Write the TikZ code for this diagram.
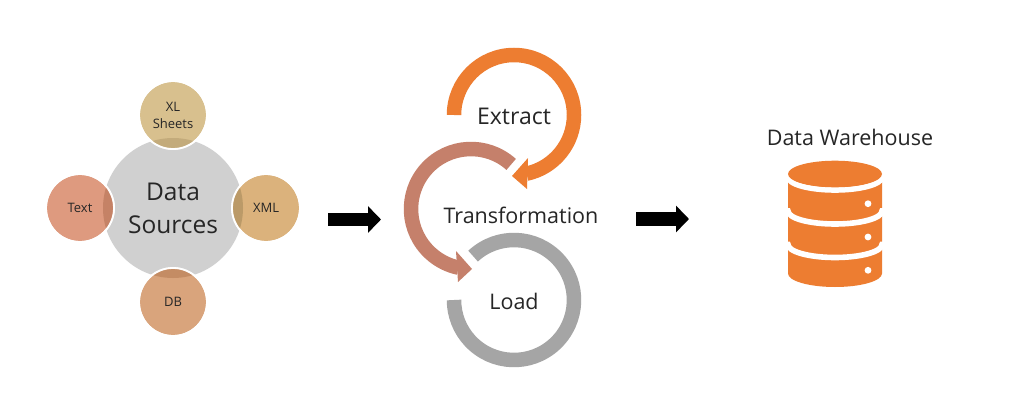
\documentclass[tikz,border=0pt]{standalone}
\usepackage{fontspec}
\setmainfont{Open Sans}
\usetikzlibrary{arrows.meta}
\definecolor{cOrange}{HTML}{ED7D31}
\definecolor{cTrans}{HTML}{C5806B}
\definecolor{cLoad}{HTML}{A5A5A5}
\definecolor{cCentre}{HTML}{D0D0D0}
\definecolor{cInk}{HTML}{262626}
\definecolor{cXL}{HTML}{D8C08E}
\definecolor{cXLd}{HTML}{C3AB7B}
\definecolor{cTxt}{HTML}{DE9A7F}
\definecolor{cTxtd}{HTML}{C58266}
\definecolor{cXml}{HTML}{DBB27C}
\definecolor{cXmld}{HTML}{BB9A68}
\definecolor{cDb}{HTML}{D9A47C}
\definecolor{cDbd}{HTML}{C48C64}
\tikzset{
  hub/.style={circle,fill=cCentre,minimum size=140pt,inner sep=0pt,align=center,text=cInk,font=\fontsize{24.5}{33}\selectfont},
  sat/.style={circle,draw=white,line width=1.8pt,minimum size=68pt,inner sep=0pt,align=center,text=cInk,font=\fontsize{13}{17}\selectfont},
  ring/.style={line width=14.5pt},
  lbl/.style={inner sep=0pt,text=cInk,font=\fontsize{21.5}{26}\selectfont},
  blockarrow/.style={line width=13.5pt,-{Triangle[length=13pt,width=26pt]}},
  dbgap/.style={draw=white,line width=5.6pt}
}
\newcommand{\lens}[2]{\begin{scope}\clip (173,208) circle[radius=70pt];\fill[#2] (#1) circle[radius=34pt];\end{scope}}
\begin{document}
\begin{tikzpicture}[x=1pt,y=-1pt]
\useasboundingbox[fill=white] (0,0) rectangle (1024,417);
% Data sources
\node[hub] (hubn) at (173,208) {};
\node[sat,fill=cXL] (xl) at (173,115) {};
\node[sat,fill=cTxt] (txt) at (80,208) {};
\node[sat,fill=cXml] (xml) at (266,208) {};
\node[sat,fill=cDb] (db) at (173,302) {};
\lens{xl}{cXLd}
\lens{txt}{cTxtd}
\lens{xml}{cXmld}
\lens{db}{cDbd}
\node[hub,fill=none] (hubt) at (173,208) {Data\\Sources};
\node[sat,fill=none] (xlt) at (173,115) {XL\\Sheets};
\node[sat,fill=none] (txtt) at (80,208) {Text};
\node[sat,fill=none] (xmlt) at (266,208) {XML};
\node[sat,fill=none] (dbt) at (173,302) {DB};
% arrows
\coordinate (a1s) at (328,219.5);
\coordinate (a1e) at (381,219.5);
\coordinate (a2s) at (636,219);
\coordinate (a2e) at (689,219);
\draw[blockarrow] (a1s) -- (a1e);
\draw[blockarrow] (a2s) -- (a2e);
% cycle
\coordinate (ce) at (514,115);
\coordinate (ct) at (471,209);
\coordinate (cl) at (514,300);
\draw[ring,draw=cLoad] (cl) ++(133:60pt) arc[start angle=133,end angle=-180,radius=60pt];
\draw[ring,draw=cTrans] (ct) ++(48:60pt) arc[start angle=48,end angle=258,radius=60pt];
\fill[cTrans] (456,251) -- (472,269) -- (458,282) -- cycle;
\draw[ring,draw=cOrange] (ce) ++(180:60pt) arc[start angle=180,end angle=-78,radius=60pt];
\fill[cOrange] (528,158) -- (512,176) -- (527,189) -- cycle;
\node[lbl] (ext) at (514,116) {\fontsize{23}{26}\selectfont Extract};
\node[lbl] (trf) at (521,215) {Transformation};
\node[lbl] (lod) at (514,301) {Load};
% warehouse
\node[lbl] (dw) at (850,137) {Data Warehouse};
\fill[cOrange] (788,178) -- (882,178) -- (882,273.5) arc[start angle=0,end angle=-180,x radius=47pt,y radius=13.5pt] -- cycle;
\draw[dbgap] (788,177) arc[start angle=-180,end angle=0,x radius=47pt,y radius=13pt];
\draw[dbgap] (785,211) -- (788,211) arc[start angle=-180,end angle=0,x radius=47pt,y radius=13pt] -- (885,211);
\draw[dbgap] (785,244.5) -- (788,244.5) arc[start angle=-180,end angle=0,x radius=47pt,y radius=13pt] -- (885,244.5);
\fill[cOrange] (835,174) ellipse[x radius=47pt,y radius=13.3pt];
\fill[white] (868,203.7) circle[radius=3.4pt] (868,237) circle[radius=3.4pt] (868,270.3) circle[radius=3.4pt];
\end{tikzpicture}
\end{document}
